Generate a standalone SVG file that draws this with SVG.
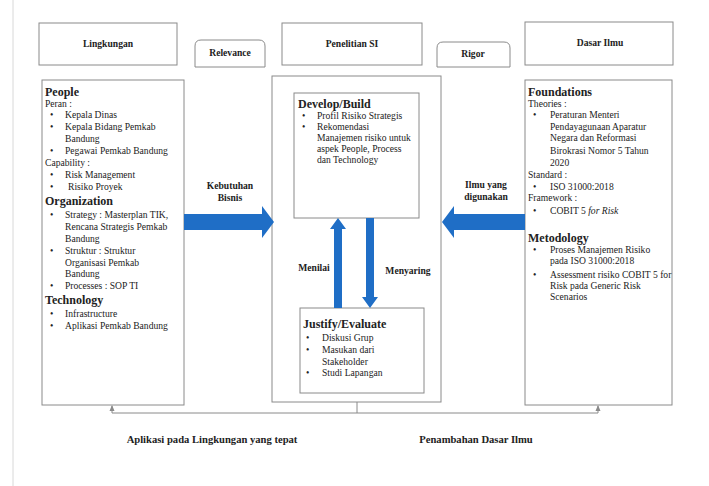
<svg xmlns="http://www.w3.org/2000/svg" width="709" height="486" viewBox="0 0 709 486">
<style>
.box{fill:#fff;stroke:#8a8a8a;stroke-width:1}
.t{font-family:"Liberation Serif","Times New Roman",serif;font-size:9.6px;fill:#222}
.h{font-family:"Liberation Serif","Times New Roman",serif;font-size:12px;font-weight:bold;fill:#222}
.lb{font-family:"Liberation Serif","Times New Roman",serif;font-size:9.6px;font-weight:bold;fill:#222;text-anchor:middle}
.bl{font-family:"Liberation Serif","Times New Roman",serif;font-size:10.6px;font-weight:bold;fill:#222;text-anchor:middle}
.ar{fill:#1f6ec6}
.cn{stroke:#8a8a8a;stroke-width:1;fill:none}
</style>
<rect width="709" height="486" fill="#fff"/>
<line x1="13" y1="0" x2="13" y2="486" stroke="#d8d8d8" stroke-width="1"/>

<g id="lingkungan-title">
<rect class="box" x="39" y="23" width="138" height="42"/>
<text class="lb" x="108" y="47">Lingkungan</text>
</g>
<g id="relevance">
<path class="box" d="M195,67 L195,46 Q195,40 201,40 L259,40 Q265,40 265,46 L265,67 Z"/>
<text class="lb" x="230" y="56">Relevance</text>
</g>
<g id="penelitian-title">
<rect class="box" x="282" y="23" width="140" height="42"/>
<text class="lb" x="352" y="47">Penelitian SI</text>
</g>
<g id="rigor">
<path class="box" d="M437,67 L437,48 Q437,42 443,42 L504,42 Q510,42 510,48 L510,67 Z"/>
<text class="lb" x="473" y="57">Rigor</text>
</g>
<g id="dasar-title">
<rect class="box" x="525" y="22" width="148" height="43"/>
<text class="lb" x="600" y="46">Dasar Ilmu</text>
</g>

<g id="lingkungan">
<rect class="box" x="42" y="80" width="142" height="325"/>
<text class="h" x="45" y="96">People</text>
<text class="t" x="45" y="107">Peran :</text>
<text class="t" x="50" y="118">•</text><text class="t" x="65" y="118">Kepala Dinas</text>
<text class="t" x="50" y="130">•</text><text class="t" x="65" y="130">Kepala Bidang Pemkab</text>
<text class="t" x="65" y="142">Bandung</text>
<text class="t" x="50" y="154">•</text><text class="t" x="65" y="154">Pegawai Pemkab Bandung</text>
<text class="t" x="45" y="166">Capability :</text>
<text class="t" x="50" y="178">•</text><text class="t" x="65" y="178">Risk Management</text>
<text class="t" x="50" y="190">•</text><text class="t" x="68" y="190">Risiko Proyek</text>
<text class="h" x="45" y="205">Organization</text>
<text class="t" x="50" y="218">•</text><text class="t" x="65" y="218">Strategy : Masterplan TIK,</text>
<text class="t" x="65" y="230">Rencana Strategis Pemkab</text>
<text class="t" x="65" y="242">Bandung</text>
<text class="t" x="50" y="254">•</text><text class="t" x="65" y="254">Struktur : Struktur</text>
<text class="t" x="65" y="266">Organisasi Pemkab</text>
<text class="t" x="65" y="277">Bandung</text>
<text class="t" x="50" y="289">•</text><text class="t" x="65" y="289">Processes : SOP TI</text>
<text class="h" x="45" y="304">Technology</text>
<text class="t" x="50" y="317">•</text><text class="t" x="65" y="317">Infrastructure</text>
<text class="t" x="50" y="329">•</text><text class="t" x="65" y="329">Aplikasi Pemkab Bandung</text>
</g>

<g id="penelitian">
<rect class="box" x="272" y="76" width="169" height="326"/>
</g>
<g id="develop">
<rect class="box" x="294" y="93" width="125" height="125"/>
<text class="h" x="298" y="108">Develop/Build</text>
<text class="t" x="302" y="119">•</text><text class="t" x="317" y="119">Profil Risiko Strategis</text>
<text class="t" x="302" y="130">•</text><text class="t" x="317" y="130">Rekomendasi</text>
<text class="t" x="317" y="141">Manajemen risiko untuk</text>
<text class="t" x="317" y="152">aspek People, Process</text>
<text class="t" x="317" y="163">dan Technology</text>
</g>
<g id="justify">
<rect class="box" x="300" y="308" width="124" height="85"/>
<text class="h" x="303" y="328">Justify/Evaluate</text>
<text class="t" x="306" y="341">•</text><text class="t" x="322" y="341">Diskusi Grup</text>
<text class="t" x="306" y="353">•</text><text class="t" x="322" y="353">Masukan dari</text>
<text class="t" x="322" y="365">Stakeholder</text>
<text class="t" x="306" y="376">•</text><text class="t" x="322" y="376">Studi Lapangan</text>
</g>

<g id="dasar-ilmu">
<rect class="box" x="525" y="80" width="147" height="325"/>
<text class="h" x="528" y="96">Foundations</text>
<text class="t" x="528" y="107">Theories :</text>
<text class="t" x="533" y="118">•</text><text class="t" x="550" y="118">Peraturan Menteri</text>
<text class="t" x="550" y="130">Pendayagunaan Aparatur</text>
<text class="t" x="550" y="141">Negara dan Reformasi</text>
<text class="t" x="550" y="154">Birokrasi Nomor 5 Tahun</text>
<text class="t" x="550" y="166">2020</text>
<text class="t" x="528" y="178">Standard :</text>
<text class="t" x="533" y="190">•</text><text class="t" x="550" y="190">ISO 31000:2018</text>
<text class="t" x="528" y="201">Framework :</text>
<text class="t" x="533" y="214">•</text><text class="t" x="550" y="214">COBIT 5 <tspan font-style="italic">for Risk</tspan></text>
<text class="h" x="528" y="242">Metodology</text>
<text class="t" x="533" y="253">•</text><text class="t" x="550" y="253">Proses Manajemen Risiko</text>
<text class="t" x="550" y="264">pada ISO 31000:2018</text>
<text class="t" x="533" y="278">•</text><text class="t" x="550" y="278">Assessment risiko COBIT 5 for</text>
<text class="t" x="550" y="289">Risk pada Generic Risk</text>
<text class="t" x="550" y="300">Scenarios</text>
</g>

<g id="connectors">
<path class="ar" d="M184,214 L262,214 L262,206 L274,222 L262,238 L262,230 L184,230 Z"/>
<path class="ar" d="M525,214 L454,214 L454,206 L442,222 L454,238 L454,230 L525,230 Z"/>
<path class="ar" d="M334,308 L334,229 L330,229 L338,218 L346,229 L342,229 L342,308 Z"/>
<path class="ar" d="M366,218 L366,297 L362,297 L370,308 L378,297 L374,297 L374,218 Z"/>
<text class="lb" x="230" y="189">Kebutuhan</text>
<text class="lb" x="230" y="201">Bisnis</text>
<text class="lb" x="486" y="188">Ilmu yang</text>
<text class="lb" x="486" y="200">digunakan</text>
<text class="lb" x="314" y="271">Menilai</text>
<text class="lb" x="408" y="274">Menyaring</text>
<line class="cn" x1="357" y1="402" x2="357" y2="413"/>
<path class="cn" d="M112,406 L112,413 L598,413 L598,406"/>
<path d="M109.5,411 L112,405 L114.5,411 Z" fill="#8a8a8a"/>
<path d="M595.5,411 L598,405 L600.5,411 Z" fill="#8a8a8a"/>
<text class="bl" x="212" y="443">Aplikasi pada Lingkungan yang tepat</text>
<text class="bl" x="476" y="443">Penambahan Dasar Ilmu</text>
</g>
</svg>
